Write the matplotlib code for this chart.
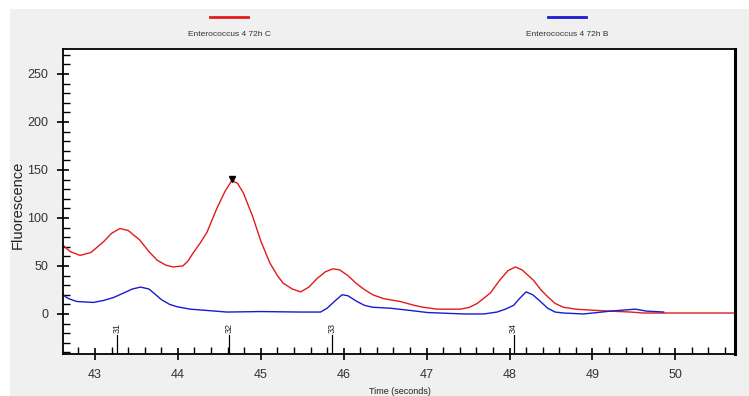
import matplotlib
matplotlib.use('Agg')
import matplotlib.pyplot as plt
from matplotlib.lines import Line2D
from matplotlib.patches import Rectangle
from matplotlib.ticker import MultipleLocator

plt.rcParams['font.family'] = ['Liberation Sans', 'DejaVu Sans']

# curve samples
red_t = [42.61, 42.7, 42.82, 42.95, 43.1, 43.2, 43.3, 43.4, 43.54, 43.65, 43.75, 43.85,
         43.94, 44.06, 44.12, 44.18, 44.27, 44.35, 44.47, 44.57, 44.65, 44.72, 44.79, 44.9,
         45.0, 45.11, 45.2, 45.27, 45.38, 45.48, 45.58, 45.68, 45.78, 45.87, 45.95, 46.05,
         46.15, 46.24, 46.35, 46.48, 46.68, 46.85, 46.96, 47.13, 47.41, 47.52, 47.61, 47.7,
         47.77, 47.88, 47.98, 48.07, 48.15, 48.29, 48.38, 48.46, 48.55, 48.65, 48.8, 48.98,
         49.2, 49.46, 49.62, 50.72]
red_y = [72, 65, 61, 64, 75, 84, 89, 87, 77, 65, 56, 51,
         49, 50, 55, 63, 74, 85, 110, 128, 139, 136, 126, 102,
         76, 53, 40, 32, 26, 23, 28, 37, 44, 47, 46, 40,
         32, 26, 20, 16, 13, 9, 7, 5, 5, 7, 11, 17,
         22, 35, 45, 49, 46, 35, 25, 18, 11, 7, 5, 4,
         3, 2, 1, 1]

blue_t = [42.61, 42.68, 42.78, 42.98, 43.1, 43.22, 43.35, 43.45, 43.55, 43.65, 43.72, 43.8,
          43.9, 43.99, 44.15, 44.3, 44.59, 45.0, 45.48, 45.72, 45.8, 45.9, 45.98, 46.05,
          46.16, 46.25, 46.35, 46.56, 46.77, 47.01, 47.45, 47.69, 47.85, 47.95, 48.05, 48.12,
          48.2, 48.28, 48.36, 48.46, 48.55, 48.65, 48.89, 49.06, 49.22, 49.52, 49.65, 49.86]
blue_y = [20, 16, 13, 12, 14, 17, 22, 26, 28, 26, 21, 15,
          10, 7.5, 5, 4, 2, 2.5, 2, 2, 6, 14, 20, 19,
          13, 9, 7, 6, 4, 1.5, 0, 0, 2, 5, 9, 16,
          23, 20, 14, 6, 2, 1, 0, 1.5, 3, 5, 3, 2]

peak_names = ['31', '32', '33', '34']
peak_t = [43.27, 44.62, 45.86, 48.05]
apex_t, apex_y = 44.65, 141

series_names = ['Enterococcus 4 72h C', 'Enterococcus 4 72h B']
series_colors = ['#e41a1a', '#1a1ad0']

fig = plt.figure(figsize=(7.49, 3.96), dpi=100)
fig.patch.set_facecolor('white')
fig.add_artist(Rectangle((10 / 749, 0), 1, 1 - 9 / 396, transform=fig.transFigure,
                         facecolor='#f0f0f0', edgecolor='none', zorder=-10))

ax = fig.add_axes([63 / 749, 42 / 396, 672 / 749, 305 / 396])
ax.set_facecolor('white')
ax.plot(red_t, red_y, color=series_colors[0], lw=1.0)
ax.plot(blue_t, blue_y, color=series_colors[1], lw=1.0)
ax.plot([apex_t], [apex_y], marker='v', color='black', ms=5, ls='none')

ax.set_xlim(42.614, 50.72)
ax.set_ylim(-41.7, 276)

for name, t in zip(peak_names, peak_t):
    ax.text(t, -15, name, rotation=90, ha='center', va='center', fontsize=6.5, color='#222222')
    ax.plot([t, t], [-22, -41.7], color='black', lw=0.9)

ax.xaxis.set_major_locator(MultipleLocator(1))
ax.xaxis.set_minor_locator(MultipleLocator(0.2))
ax.yaxis.set_major_locator(MultipleLocator(50))
ax.yaxis.set_minor_locator(MultipleLocator(10))
ax.tick_params(which='major', direction='inout', length=9, width=1.2, labelsize=9,
               labelcolor='#333333', pad=6)
ax.tick_params(which='minor', direction='in', length=5, width=1.0)
ax.set_yticks([0, 50, 100, 150, 200, 250])

for side, sp in ax.spines.items():
    sp.set_linewidth(1.3)
ax.spines['right'].set_linewidth(2.2)

fig.text(18 / 749, 1 - 205 / 396, 'Fluorescence', rotation=90, ha='center', va='center',
         fontsize=10.5, color='#222222')
fig.text(400 / 749, 1 - 391 / 396, 'Time (seconds)', ha='center', va='center',
         fontsize=6.5, color='#222222')

# legend: short line above each series name
for name, color, cx in zip(series_names, series_colors, [229, 567]):
    fig.add_artist(Line2D([(cx - 19) / 749, (cx + 19) / 749], [1 - 17 / 396] * 2,
                          transform=fig.transFigure, color=color, lw=2))
    fig.text(cx / 749, 1 - 35 / 396, name, ha='center', va='center', fontsize=6,
             color='#333333')

plt.savefig('out.png', dpi=100)
